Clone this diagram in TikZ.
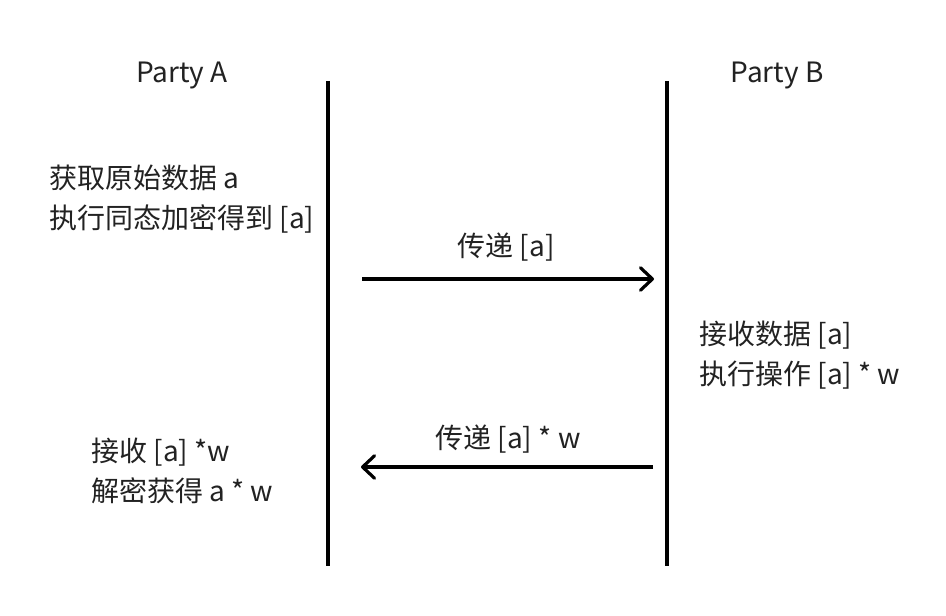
\documentclass[tikz,border=0pt]{standalone}
\usepackage{fontspec}
\setmainfont{Noto Sans CJK SC}
\usetikzlibrary{arrows.meta}
\definecolor{txt}{HTML}{222222}
\begin{document}
\begin{tikzpicture}[x=0.75pt,y=-0.75pt,
  lbl/.style={text=txt,font=\fontsize{21}{29.5}\selectfont,inner sep=0pt,align=left},
  life/.style={line width=2.5pt},
  msg/.style={line width=2.4pt,-{Straight Barb[length=9pt,width=17pt,line cap=round,line join=round]}}]
\useasboundingbox (0,0) rectangle (946,616);
\node[lbl] (pa) at (182,76) {Party A};
\node[lbl] (pb) at (777,76) {Party B};
\coordinate (at) at (328,81);
\coordinate (ab) at (328,566);
\coordinate (bt) at (667,81);
\coordinate (bb) at (667,566);
\draw[life] (at) -- (ab);
\draw[life] (bt) -- (bb);
\node[lbl,anchor=west] (a1) at (49,199) {获取原始数据 a\\执行同态加密得到 [a]};
\node[lbl] (m1) at (506,247) {传递 [a]};
\coordinate (m1s) at (362,279);
\coordinate (m1e) at (654,279);
\draw[msg] (m1s) -- (m1e);
\node[lbl,anchor=west] (b1) at (699,355) {接收数据 [a]\\执行操作 [a] * w};
\node[lbl] (m2) at (508,439) {传递 [a] * w};
\coordinate (m2s) at (653,467);
\coordinate (m2e) at (361,467);
\draw[msg] (m2s) -- (m2e);
\node[lbl,anchor=west] (a2) at (91,471) {接收 [a] *w\\解密获得 a * w};
\end{tikzpicture}
\end{document}
